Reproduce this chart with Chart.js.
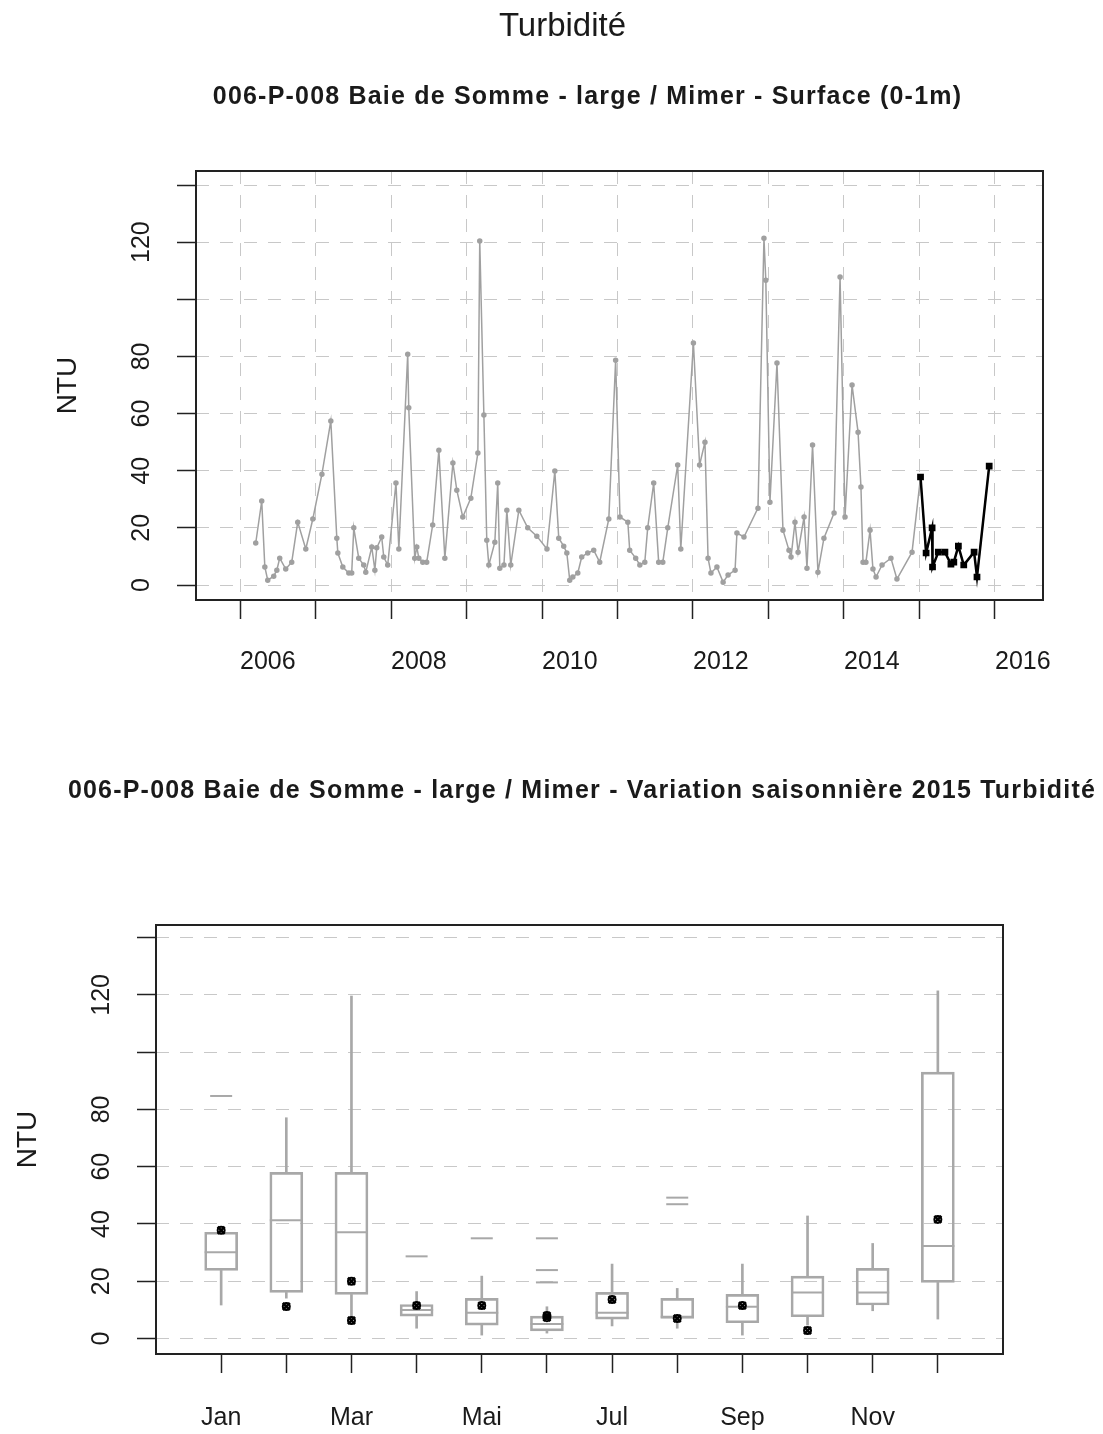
<!DOCTYPE html>
<html lang="fr">
<head>
<meta charset="utf-8">
<title>Turbidité</title>
<script src="https://cdn.jsdelivr.net/npm/chart.js@4.4.1/dist/chart.umd.min.js"></script>
<style>
  body { margin: 0; background: #fff; }
  #page { position: relative; width: 1103px; height: 1434px; overflow: hidden;
          font-family: 'Liberation Sans', Arial, sans-serif; color: #1a1a1a; }
  .txt { position: absolute; width: 1300px; text-align: center; white-space: nowrap; }
  canvas { position: absolute; left: 0; }
</style>
</head>
<body>
<div id="page">
  <canvas id="seriesChart" width="1103" height="720" style="top:0"></canvas>
  <canvas id="monthChart" width="1103" height="694" style="top:740px"></canvas>
  <div class="txt" style="left:-87.5px; top:5px; font-size:33px; line-height:40px;">Turbidité</div>
  <div class="txt" style="left:-62.5px; top:80px; font-size:25px; line-height:30px; font-weight:bold; letter-spacing:1.2px;">006-P-008 Baie de Somme - large / Mimer - Surface (0-1m)</div>
  <div class="txt" style="left:-68px; top:774px; font-size:25px; line-height:30px; font-weight:bold; letter-spacing:1.2px;">006-P-008 Baie de Somme - large / Mimer - Variation saisonnière 2015 Turbidité</div>
</div>
<script>
// mesures 2006-2014 (NTU)
const histDates = [
  '2006-03-18','2006-04-16','2006-05-01','2006-05-15','2006-06-13','2006-06-28','2006-07-12','2006-08-10',
  '2006-09-08','2006-10-07','2006-11-15','2006-12-19',
  '2007-02-01','2007-03-16','2007-04-14','2007-04-19','2007-05-13','2007-06-11','2007-06-25','2007-07-05',
  '2007-07-29','2007-08-22','2007-09-01','2007-09-30','2007-10-15','2007-10-24','2007-11-17','2007-11-27','2007-12-16',
  '2008-01-25','2008-02-08','2008-03-22','2008-03-27','2008-04-25','2008-05-05','2008-05-15','2008-06-03',
  '2008-06-22','2008-07-21','2008-08-20','2008-09-18','2008-10-27','2008-11-15','2008-12-14',
  '2009-01-22','2009-02-25','2009-03-06','2009-03-26','2009-04-09','2009-04-19','2009-05-18','2009-06-01',
  '2009-06-11','2009-07-01','2009-07-15','2009-08-03','2009-09-11','2009-10-24','2009-12-07',
  '2010-01-25','2010-03-04','2010-03-23','2010-04-16','2010-05-01','2010-05-15','2010-05-30','2010-06-23',
  '2010-07-12','2010-08-10','2010-09-08','2010-10-07','2010-11-20','2010-12-23',
  '2011-01-13','2011-02-20','2011-03-01','2011-03-30','2011-04-19','2011-05-13','2011-05-27','2011-06-25',
  '2011-07-19','2011-08-08','2011-09-01','2011-10-19','2011-11-03',
  '2012-01-03','2012-02-02','2012-02-28','2012-03-14','2012-03-28','2012-04-26','2012-05-26','2012-06-19',
  '2012-07-23','2012-08-01','2012-09-04','2012-11-11','2012-12-10','2012-12-19',
  '2013-01-08','2013-02-11','2013-03-12','2013-04-10','2013-04-20','2013-05-09','2013-05-24','2013-06-22',
  '2013-07-06','2013-08-02','2013-08-28','2013-09-26','2013-11-14','2013-12-13',
  '2014-01-06','2014-02-09','2014-03-10','2014-03-24','2014-04-03','2014-04-17','2014-05-07','2014-05-21',
  '2014-06-05','2014-07-04','2014-08-16','2014-09-14','2014-11-26'
];
const histNTU = [
  14.7, 29.4, 6.3, 1.7, 3.1, 5.2, 9.4, 5.6,
  8, 22, 12.6, 23.1,
  38.8, 57.4, 16.4, 11.2, 6.3, 4.2, 4.2, 20,
  9.4, 7, 4.5, 13.3, 5.2, 13, 16.8, 9.8, 7,
  35.7, 12.6, 80.8, 62, 9.4, 13.3, 9.4, 8,
  8, 21, 47.2, 9.4, 42.7, 33.2, 23.8,
  30.4, 46.2, 120.4, 59.5, 15.7, 7, 15, 35.7,
  5.9, 7, 26.2, 7, 26.2, 20, 17.1,
  12.6, 39.9, 16.4, 13.6, 11.2, 1.7, 2.8, 4.2,
  9.8, 11.2, 12.2, 8, 23.1, 78.7,
  23.8, 22, 12.2, 9.4, 7, 8, 20, 35.7,
  8, 8, 20, 42, 12.6,
  84.7, 42, 50, 9.4, 4.2, 6.3, 1, 3.5,
  5.2, 18.2, 16.8, 26.9, 121.4, 106.7,
  29, 77.7, 19.2, 12.2, 9.8, 22, 11.5, 23.8,
  5.9, 49, 4.5, 16.4, 25.2, 107.8,
  23.8, 70, 53.5, 34.3, 8, 8, 19.2, 5.6,
  2.8, 7, 9.4, 2.1, 11.5
];

// mesures 2015
const dates2015 = ['2015-01-06','2015-02-02','2015-03-03','2015-03-05','2015-04-02','2015-05-04','2015-06-02',
                   '2015-06-16','2015-07-08','2015-08-03','2015-09-22','2015-10-06','2015-12-04'];
const ntu2015 = [37.8, 11.2, 20, 6.3, 11.5, 11.5, 7.3, 8, 13.6, 7, 11.5, 2.8, 41.6];

// boxplots mensuels
const months = [1, 2, 3, 4, 5, 6, 7, 8, 9, 10, 11, 12];
const monthLabels = ['Jan', '', 'Mar', '', 'Mai', '', 'Jul', '', 'Sep', '', 'Nov', ''];
const whiskerLow = [11.7, 14.1, 6.0, 3.6, 1.2, 1.9, 4.4, 3.6, 1.2, 4.7, 9.7, 6.8];
const q1 = [23.8, 16.1, 15.4, 7.8, 4.7, 2.7, 6.8, 7.0, 5.5, 7.6, 11.7, 19.6];
const median = [30.1, 41.3, 37.1, 10.0, 9.0, 5.1, 9.0, 7.6, 11.1, 16.1, 16.1, 32.3];
const q3 = [37.1, 58.0, 58.0, 11.9, 14.0, 7.8, 16.1, 14.0, 15.4, 21.8, 24.5, 93.0];
const whiskerHigh = [37.1, 77.1, 119.6, 16.4, 21.8, 11.1, 26.0, 17.5, 26.0, 42.8, 33.2, 121.4];
const outlierMonths = [1, 4, 5, 6, 6, 6, 8, 8];
const outlierValues = [84.7, 28.7, 35.0, 35.0, 23.9, 19.6, 49.2, 46.9];

const yLabelsShown = [0, 20, 40, 60, 80, 120];

const gridGrey = '#c8c8c8';
const lineGrey = '#a0a0a0';
const boxGrey = '#a8a8a8';

Chart.defaults.font.family = "'Liberation Sans', Arial, sans-serif";
Chart.defaults.font.size = 25;
Chart.defaults.color = '#1a1a1a';

function toYear(d) {
    const [y, m, day] = d.split('-').map(Number);
    const start = Date.UTC(y, 0, 1);
    const end = Date.UTC(y + 1, 0, 1);
    return y + (Date.UTC(y, m - 1, day) - start) / (end - start);
}

// black frame around the plot region
const plotBox = {
    id: 'plotBox',
    afterDatasetsDraw(chart) {
        const { ctx, chartArea: a } = chart;
        ctx.save();
        ctx.setLineDash([]);
        ctx.strokeStyle = '#222';
        ctx.lineWidth = 2;
        ctx.strokeRect(a.left, a.top, a.right - a.left, a.bottom - a.top);
        ctx.restore();
    }
};

const gridOpts = { color: gridGrey, lineWidth: 1, tickColor: '#222', tickWidth: 1.5, tickLength: 19 };
const borderOpts = { display: false, dash: [13, 11] };

function yAxis(min, max, width, titlePad) {
    return {
        min: min,
        max: max,
        afterFit: (s) => { s.width = width; },
        ticks: {
            stepSize: 20,
            includeBounds: false,
            autoSkip: false,
            minRotation: 90,
            maxRotation: 90,
            crossAlign: 'center',
            padding: 14,
            callback: (v) => yLabelsShown.includes(v) ? String(v) : ''
        },
        title: { display: true, text: 'NTU', font: { size: 28 }, padding: { top: titlePad, bottom: 0 } },
        grid: gridOpts,
        border: borderOpts
    };
}

// --- série temporelle ---
const allPoints = histDates.concat(dates2015).map((d, i) => ({
    x: toYear(d),
    y: histNTU.concat(ntu2015)[i]
}));
const points2015 = dates2015.map((d, i) => ({ x: toYear(d), y: ntu2015[i] }));

new Chart(document.getElementById('seriesChart'), {
    type: 'line',
    data: {
        datasets: [
            {
                label: '2015',
                data: points2015,
                borderColor: '#000',
                backgroundColor: '#000',
                borderWidth: 2.5,
                pointStyle: 'rect',
                pointRadius: 3,
                order: 0
            },
            {
                label: '2006-2014',
                data: allPoints,
                borderColor: lineGrey,
                backgroundColor: lineGrey,
                borderWidth: 1.5,
                pointRadius: 2,
                order: 1
            }
        ]
    },
    options: {
        responsive: false,
        animation: false,
        layout: { padding: { top: 171, right: 60, bottom: 0, left: 0 } },
        plugins: { legend: { display: false }, tooltip: { enabled: false } },
        scales: {
            x: {
                type: 'linear',
                min: 2005.417,
                max: 2016.636,
                afterFit: (s) => { s.height = 120; },
                ticks: {
                    stepSize: 1,
                    includeBounds: false,
                    autoSkip: false,
                    maxRotation: 0,
                    align: 'start',
                    padding: 28,
                    callback: (v) => v % 2 === 0 ? String(v) : ''
                },
                grid: gridOpts,
                border: borderOpts
            },
            y: yAxis(-5.25, 144.9, 196, 51)
        }
    },
    plugins: [plotBox]
});

// --- variation saisonnière ---
const marks2015 = dates2015.map((d, i) => ({ x: Number(d.slice(5, 7)), y: ntu2015[i] }));

new Chart(document.getElementById('monthChart'), {
    type: 'bar',
    data: {
        datasets: [
            {
                type: 'scatter',
                label: '2015 cercle',
                data: marks2015,
                pointStyle: 'circle',
                pointRadius: 3.5,
                borderColor: '#000',
                backgroundColor: 'rgba(0,0,0,0)',
                borderWidth: 2,
                order: 0
            },
            {
                type: 'scatter',
                label: '2015 croix',
                data: marks2015,
                pointStyle: 'crossRot',
                pointRadius: 5,
                borderColor: '#000',
                borderWidth: 2.5,
                order: 0
            },
            {
                type: 'scatter',
                label: 'médiane',
                data: months.map((m, i) => ({ x: m, y: median[i] })),
                pointStyle: 'line',
                pointRadius: 16.5,
                borderColor: boxGrey,
                borderWidth: 2,
                order: 1
            },
            {
                type: 'scatter',
                label: 'valeurs extrêmes',
                data: outlierMonths.map((m, i) => ({ x: m, y: outlierValues[i] })),
                pointStyle: 'line',
                pointRadius: 11,
                borderColor: boxGrey,
                borderWidth: 2,
                order: 1
            },
            {
                label: 'boîte',
                data: months.map((m, i) => ({ x: m, y: [q1[i], q3[i]] })),
                backgroundColor: 'rgba(0,0,0,0)',
                borderColor: boxGrey,
                borderWidth: 2,
                borderSkipped: false,
                barThickness: 33,
                grouped: false,
                order: 2
            },
            {
                label: 'moustache haute',
                data: months.map((m, i) => ({ x: m, y: [q3[i], whiskerHigh[i]] })),
                backgroundColor: boxGrey,
                borderWidth: 0,
                barThickness: 2,
                grouped: false,
                order: 3
            },
            {
                label: 'moustache basse',
                data: months.map((m, i) => ({ x: m, y: [whiskerLow[i], q1[i]] })),
                backgroundColor: boxGrey,
                borderWidth: 0,
                barThickness: 2,
                grouped: false,
                order: 3
            }
        ]
    },
    options: {
        responsive: false,
        animation: false,
        layout: { padding: { top: 185, right: 100, bottom: 0, left: 0 } },
        plugins: { legend: { display: false }, tooltip: { enabled: false } },
        scales: {
            x: {
                type: 'linear',
                min: 0,
                max: 13,
                offset: false,
                afterFit: (s) => { s.height = 80; },
                afterBuildTicks: (s) => { s.ticks = months.map(m => ({ value: m })); },
                ticks: {
                    autoSkip: false,
                    maxRotation: 0,
                    padding: 30,
                    callback: (v) => monthLabels[v - 1] || ''
                },
                grid: { ...gridOpts, offset: false, drawOnChartArea: false },
                border: borderOpts
            },
            y: yAxis(-5.4, 144.4, 156, 11)
        }
    },
    plugins: [plotBox]
});
</script>
</body>
</html>
